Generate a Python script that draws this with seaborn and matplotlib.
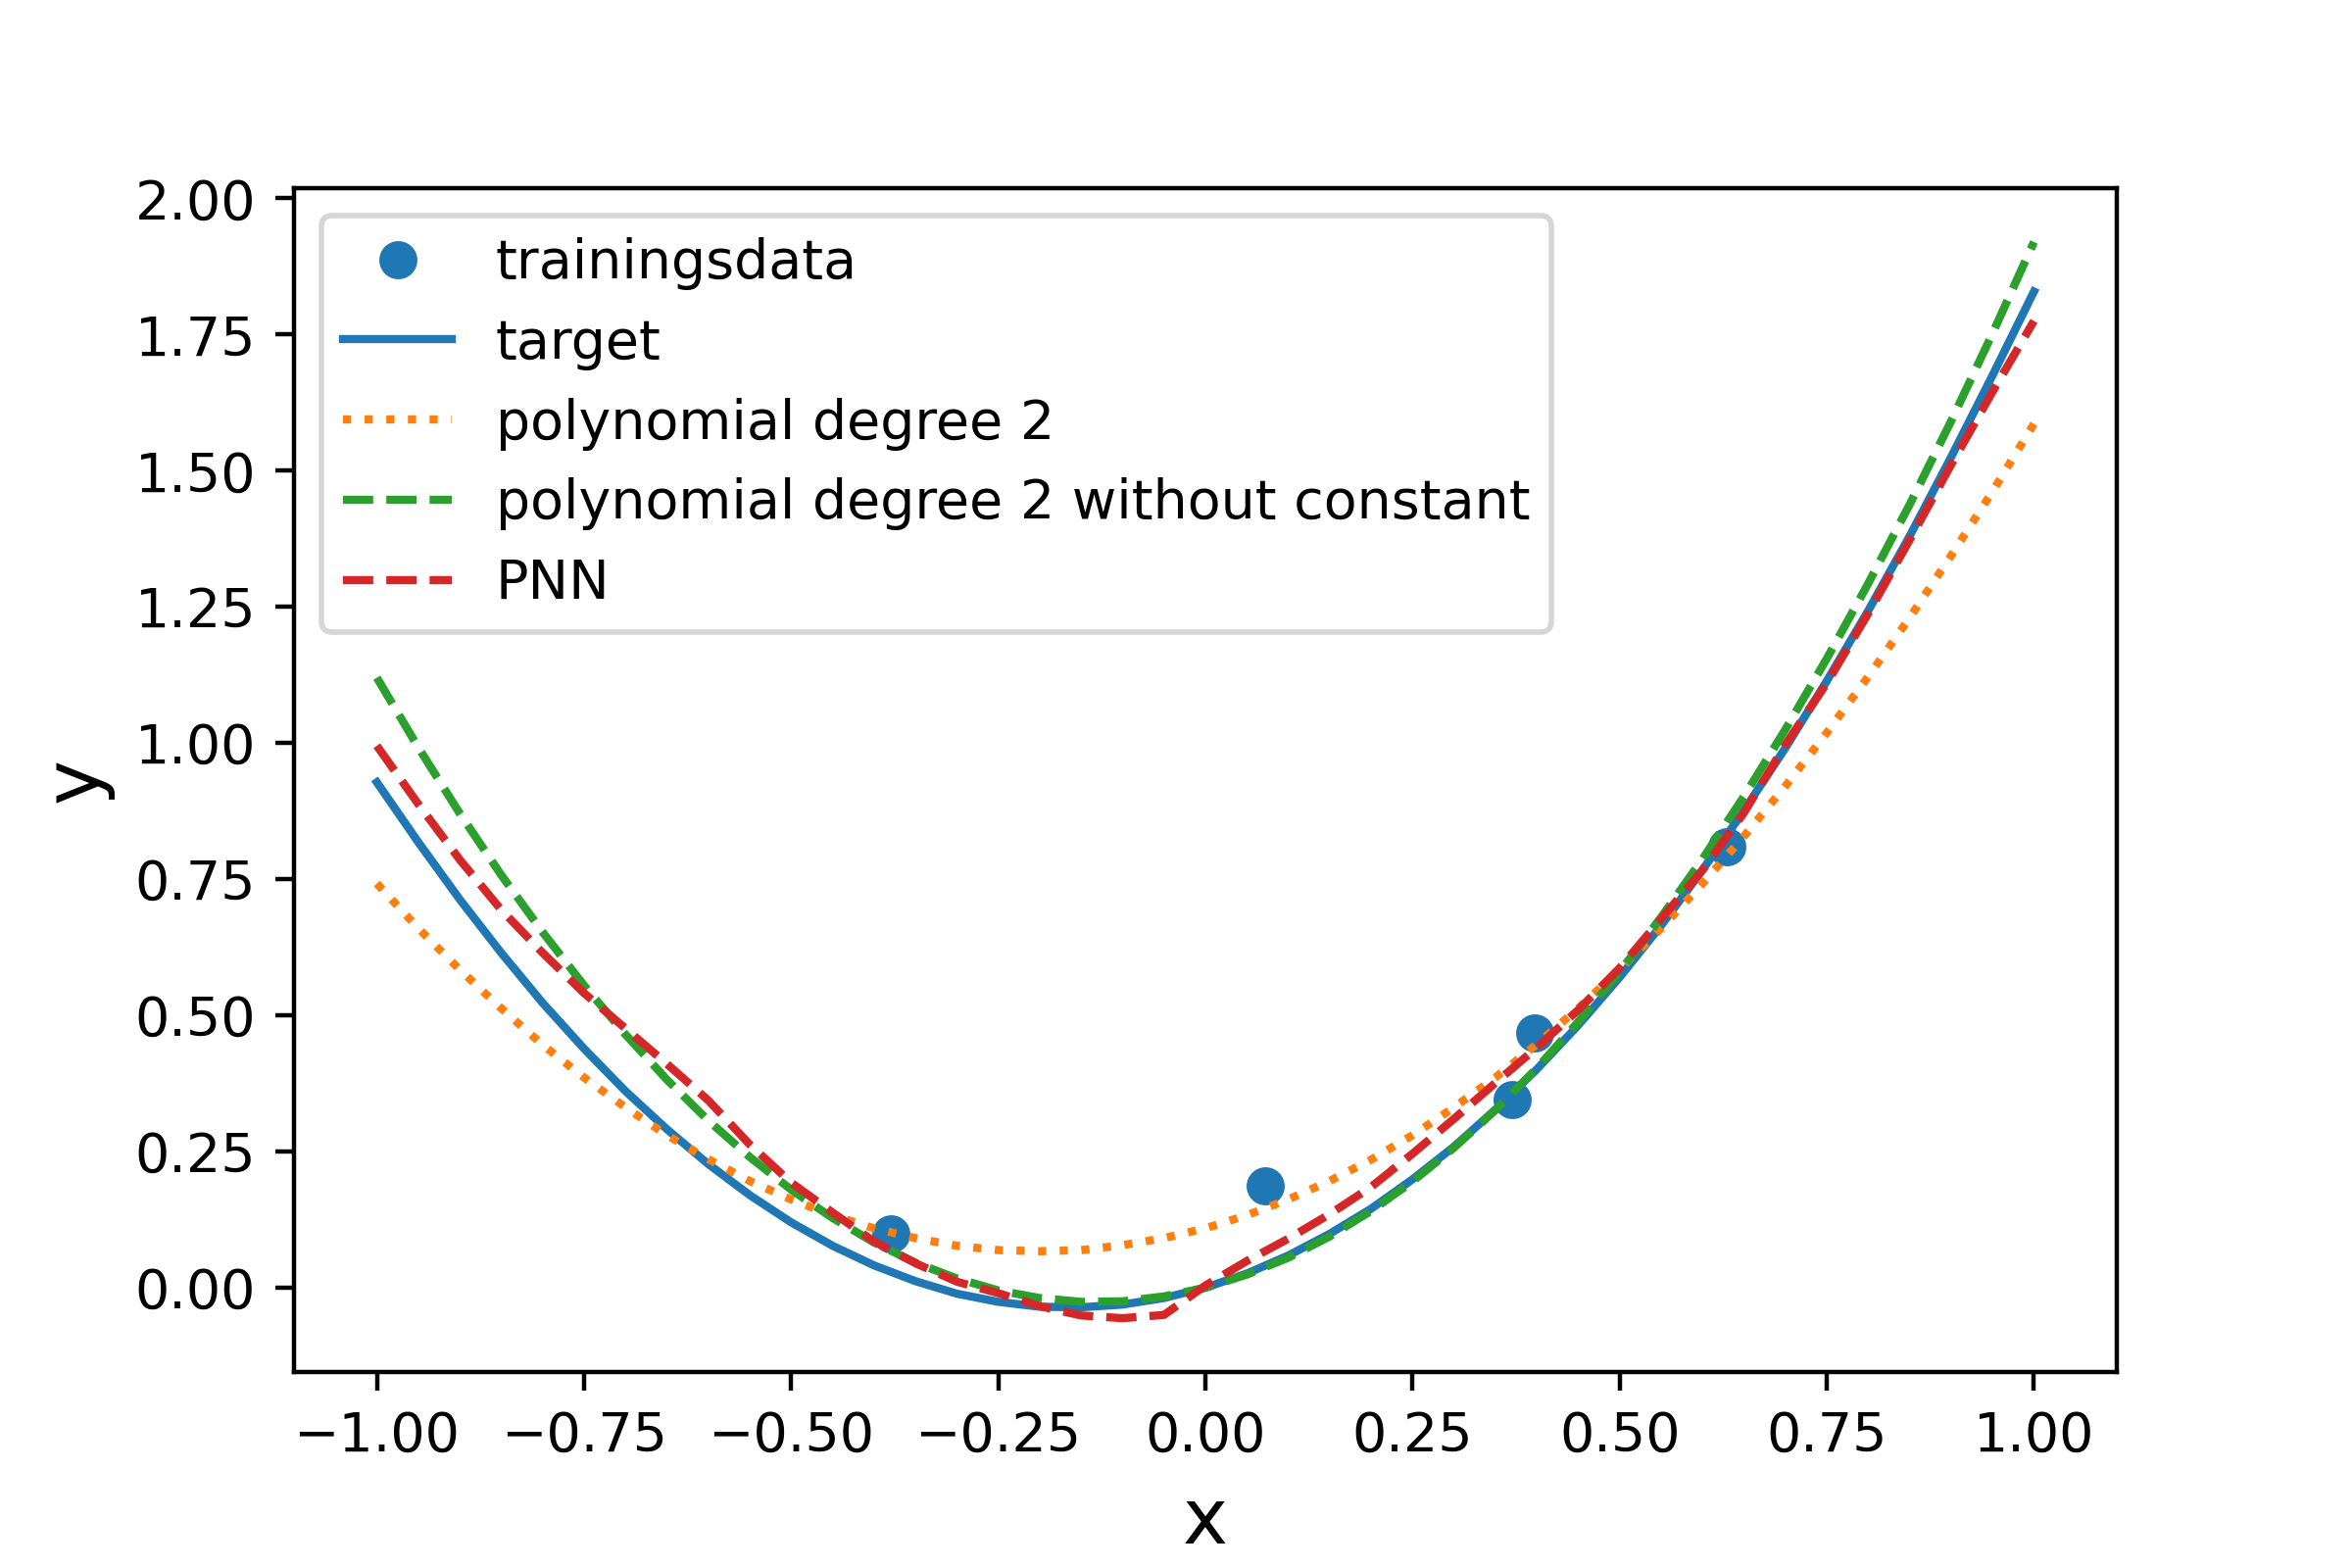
import numpy as np
import matplotlib
matplotlib.use("Agg")
import matplotlib.pyplot as plt
import seaborn as sns

# trainingsdata
train_x = [-0.380, 0.072, 0.370, 0.397, 0.629]
train_y = [0.099, 0.187, 0.346, 0.468, 0.810]

# x grid for the curves (-1 .. 1, step 0.05)
x = np.linspace(-1, 1, 41)

target = [0.928, 0.818, 0.713, 0.615, 0.523, 0.439, 0.361, 0.291, 0.227, 0.170,
          0.120, 0.077, 0.041, 0.012, -0.011, -0.026, -0.035, -0.036, -0.031, -0.019,
          0.000, 0.026, 0.059, 0.099, 0.145, 0.199, 0.259, 0.327, 0.401, 0.482,
          0.570, 0.665, 0.767, 0.876, 0.991, 1.114, 1.243, 1.380, 1.525, 1.675, 1.829]

poly2 = [0.742, 0.660, 0.584, 0.513, 0.446, 0.386, 0.331, 0.280, 0.236, 0.196,
         0.162, 0.133, 0.109, 0.091, 0.077, 0.069, 0.067, 0.069, 0.078, 0.091,
         0.109, 0.133, 0.162, 0.196, 0.235, 0.280, 0.331, 0.386, 0.447, 0.513,
         0.584, 0.660, 0.742, 0.829, 0.921, 1.019, 1.122, 1.230, 1.344, 1.462, 1.586]

poly2_noc = [1.120, 0.992, 0.871, 0.758, 0.653, 0.555, 0.465, 0.382, 0.307, 0.240,
             0.180, 0.128, 0.083, 0.046, 0.017, -0.005, -0.019, -0.026, -0.025, -0.016,
             0.000, 0.024, 0.055, 0.094, 0.141, 0.195, 0.257, 0.326, 0.403, 0.488,
             0.580, 0.680, 0.787, 0.902, 1.025, 1.155, 1.293, 1.438, 1.591, 1.752, 1.920]

pnn = [0.995, 0.888, 0.786, 0.694, 0.615, 0.541, 0.476, 0.411, 0.344, 0.263,
       0.193, 0.138, 0.085, 0.045, 0.011, -0.010, -0.034, -0.051, -0.056, -0.050,
       0.004, 0.049, 0.090, 0.135, 0.185, 0.246, 0.310, 0.376, 0.441, 0.510,
       0.587, 0.677, 0.767, 0.872, 0.997, 1.110, 1.238, 1.373, 1.511, 1.645, 1.775]

fig, ax = plt.subplots(figsize=(6, 4), dpi=400)
fig.subplots_adjust(bottom=0.125)

sns.lineplot(x=train_x, y=train_y, marker="o", linestyle="", markersize=6,
             mec="C0", mew=1, color="C0", label="trainingsdata", ax=ax)
sns.lineplot(x=x, y=target, color="C0", label="target", ax=ax)
sns.lineplot(x=x, y=poly2, color="C1", linestyle=":", label="polynomial degree 2", ax=ax)
sns.lineplot(x=x, y=poly2_noc, color="C2", linestyle="--",
             label="polynomial degree 2 without constant", ax=ax)
sns.lineplot(x=x, y=pnn, color="C3", linestyle="--", label="PNN", ax=ax)

ax.set_xlabel("x", fontsize=14)
ax.set_ylabel("y", fontsize=14)
ax.legend(loc="upper left")

fig.savefig("out.png", dpi=400)
